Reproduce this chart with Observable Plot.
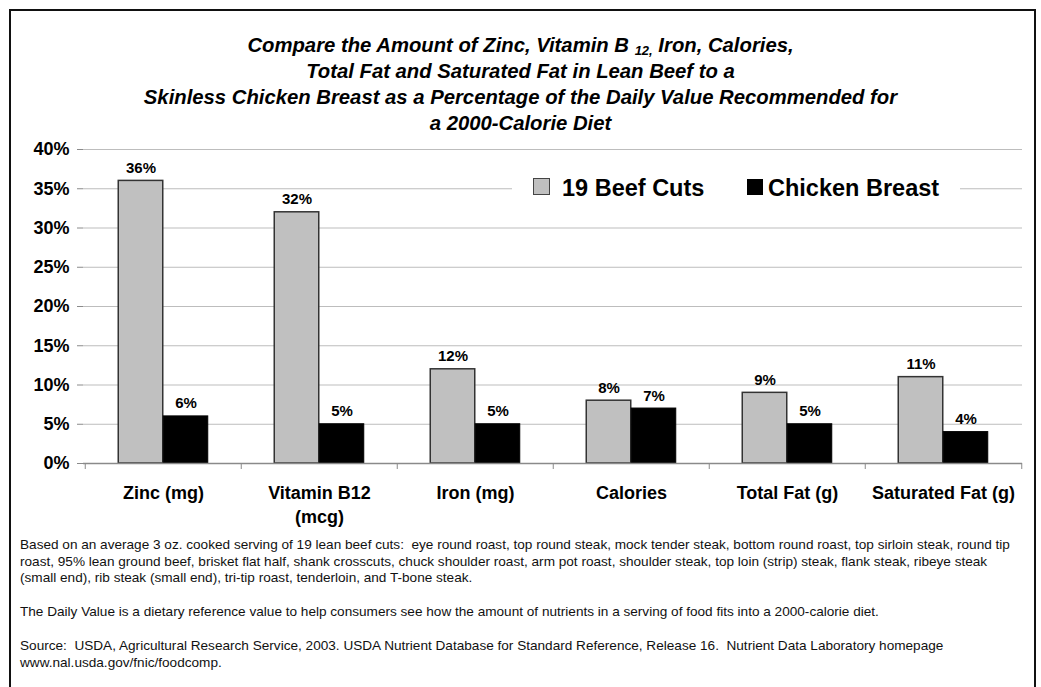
<!DOCTYPE html>
<html>
<head>
<meta charset="utf-8">
<script src="https://cdn.jsdelivr.net/npm/d3@7"></script>
<script src="https://cdn.jsdelivr.net/npm/@observablehq/plot@0.6"></script>
<style>
  body { margin: 0; background: #fff; font-family: "Liberation Sans", Arial, sans-serif; color: #000; }
  #page { position: relative; width: 1041px; height: 687px; overflow: hidden; }
  #border { position: absolute; left: 9px; top: 9px; width: 1023px; height: 720px; border: 2px solid #111; }
  #title { position: absolute; left: 0; top: 32px; width: 1041px; text-align: center;
           font-style: italic; font-weight: bold; font-size: 20.3px; line-height: 26px; }
  #title sub { font-size: 13px; vertical-align: -3px; line-height: 0; }
  #chart { position: absolute; left: 0; top: 136px; }
  #legend { position: absolute; left: 512px; top: 174px; width: 448px; height: 28px; background: #fff; }
  #legend .sw { position: absolute; box-sizing: border-box; }
  #legend .lbl { position: absolute; top: 0; line-height: 28px; font-size: 23.5px; font-weight: bold; white-space: nowrap; }
  #notes { position: absolute; left: 20px; top: 537px; font-size: 13.6px; line-height: 16.5px; white-space: pre; color: #111; }
  #notes .para { margin-bottom: 17.5px; }
</style>
</head>
<body>
<div id="page">
  <div id="border"></div>
  <div id="title">Compare the Amount of Zinc, Vitamin B <sub>12,</sub> Iron, Calories,<br>Total Fat and Saturated Fat in Lean Beef to a<br>Skinless Chicken Breast as a Percentage of the Daily Value Recommended for<br>a 2000-Calorie Diet</div>
  <div id="chart"></div>
  <div id="legend"></div>
  <div id="notes"></div>
</div>
<script>
// Nutrients compared (x categories); "\n" splits a label over two lines
const categories = ["Zinc (mg)", "Vitamin B12\n(mcg)", "Iron (mg)", "Calories", "Total Fat (g)", "Saturated Fat (g)"];
// Percent of Daily Value per 3 oz. cooked serving
const beefValues = [36, 32, 12, 8, 9, 11];
const chickenValues = [6, 5, 5, 7, 5, 4];
const seriesNames = ["19 Beef Cuts", "Chicken Breast"];
const seriesColors = ["#c0c0c0", "#000000"];
const yTicks = [0, 5, 10, 15, 20, 25, 30, 35, 40];

// Footnote paragraphs, one string per printed line
const notes = [
  [
    "Based on an average 3 oz. cooked serving of 19 lean beef cuts:  eye round roast, top round steak, mock tender steak, bottom round roast, top sirloin steak, round tip",
    "roast, 95% lean ground beef, brisket flat half, shank crosscuts, chuck shoulder roast, arm pot roast, shoulder steak, top loin (strip) steak, flank steak, ribeye steak",
    "(small end), rib steak (small end), tri-tip roast, tenderloin, and T-bone steak."
  ],
  [
    "The Daily Value is a dietary reference value to help consumers see how the amount of nutrients in a serving of food fits into a 2000-calorie diet."
  ],
  [
    "Source:  USDA, Agricultural Research Service, 2003. USDA Nutrient Database for Standard Reference, Release 16.  Nutrient Data Laboratory homepage",
    "www.nal.usda.gov/fnic/foodcomp."
  ]
];

const beefRows = categories.map((c, i) => ({category: c, series: seriesNames[0], value: beefValues[i]}));
const chickenRows = categories.map((c, i) => ({category: c, series: seriesNames[1], value: chickenValues[i]}));

const width = 1041, height = 400;
const marginLeft = 83, marginRight = 19, marginTop = 13, marginBottom = 73;
const band = (width - marginLeft - marginRight) / categories.length;
const barW = 45;
const inset = (band - barW) / 2;
const pct = d => d + "%";

const chart = Plot.plot({
  width, height, marginLeft, marginRight, marginTop, marginBottom,
  style: {fontFamily: "'Liberation Sans', Arial, sans-serif", background: "transparent", color: "#000"},
  x: {type: "band", domain: categories, padding: 0},
  y: {domain: [0, 40], label: null},
  marks: [
    Plot.gridY(yTicks, {stroke: "#bdbdbd", strokeOpacity: 1}),
    Plot.axisY(yTicks, {tickFormat: pct, tickSize: 6, tickPadding: 8, fontSize: 18, fontWeight: "bold",
                        color: "#000", stroke: "#8a8a8a", label: null}),
    // category boundary ticks below the baseline
    Plot.ruleX(categories, {x: d => d, dx: -band / 2, y1: 0, y2: 0, insetBottom: -6, stroke: "#8a8a8a"}),
    Plot.ruleX(categories.slice(-1), {x: d => d, dx: band / 2, y1: 0, y2: 0, insetBottom: -6, stroke: "#8a8a8a"}),
    Plot.barY(beefRows, {x: "category", y: "value", fill: seriesColors[0], stroke: "#333", strokeWidth: 1.5,
                         insetLeft: inset, insetRight: inset, dx: -barW / 2}),
    Plot.barY(chickenRows, {x: "category", y: "value", fill: seriesColors[1], stroke: "#000", strokeWidth: 1,
                            insetLeft: inset, insetRight: inset, dx: barW / 2}),
    Plot.ruleY([0], {stroke: "#8a8a8a", strokeWidth: 1.5}),
    Plot.text(beefRows, {x: "category", y: "value", text: d => pct(d.value), dx: -barW / 2, dy: -8,
                         lineAnchor: "bottom", fontSize: 15, fontWeight: "bold", fill: "#000"}),
    Plot.text(chickenRows, {x: "category", y: "value", text: d => pct(d.value), dx: barW / 2, dy: -8,
                            lineAnchor: "bottom", fontSize: 15, fontWeight: "bold", fill: "#000"}),
    Plot.axisX({tickSize: 0, tickPadding: 19, fontSize: 18, fontWeight: "bold", lineHeight: 1.3,
                color: "#000", label: null})
  ]
});
document.getElementById("chart").append(chart);

// Legend drawn over the chart, on a white box that interrupts the 35% gridline
const legend = document.getElementById("legend");
const legendItems = [
  {swLeft: 21, swTop: 4, sw: 17, border: "1.5px solid #444", textLeft: 50},
  {swLeft: 235, swTop: 5, sw: 16, border: "none", textLeft: 256}
];
seriesNames.forEach((name, i) => {
  const it = legendItems[i];
  const sw = document.createElement("div");
  sw.className = "sw";
  Object.assign(sw.style, {left: it.swLeft + "px", top: it.swTop + "px", width: it.sw + "px", height: it.sw + "px",
                           background: seriesColors[i], border: it.border});
  const lbl = document.createElement("div");
  lbl.className = "lbl";
  lbl.style.left = it.textLeft + "px";
  lbl.textContent = name;
  legend.append(sw, lbl);
});

const notesEl = document.getElementById("notes");
notes.forEach(lines => {
  const p = document.createElement("div");
  p.className = "para";
  p.textContent = lines.join("\n");
  notesEl.append(p);
});
</script>
</body>
</html>
